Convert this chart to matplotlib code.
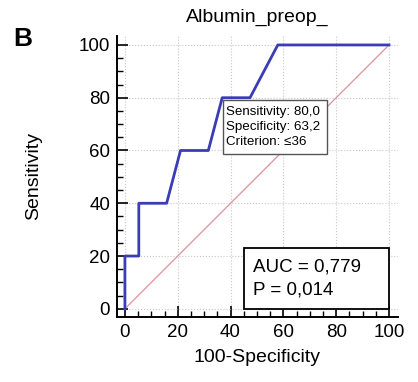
import numpy as np
import matplotlib.pyplot as plt
from matplotlib.patches import Rectangle

plt.rcParams['font.family'] = ['Liberation Sans', 'DejaVu Sans']

# ROC curve points (100-Specificity, Sensitivity)
fpr = [0, 0, 5.26, 5.26, 15.79, 21.05, 31.58, 36.84, 47.37, 57.89, 100]
tpr = [0, 20, 20, 40, 40, 60, 60, 80, 80, 100, 100]
ticks = [0, 20, 40, 60, 80, 100]

title = "Albumin_preop_"
crit_text = "Sensitivity: 80,0\nSpecificity: 63,2\nCriterion: \u226436"
auc_text = "AUC = 0,779\nP = 0,014"

fig = plt.figure(figsize=(4.18, 3.82), dpi=100)
ax = fig.add_axes([0.2799, 0.1702, 0.6722, 0.7356])

ax.set_xlim(-3, 103.4)
ax.set_ylim(-3.1, 103.4)

ax.set_xticks(ticks)
ax.set_yticks(ticks)
ax.set_xticks(np.arange(0, 101, 5), minor=True)
ax.set_yticks(np.arange(0, 101, 5), minor=True)
ax.tick_params(which="major", direction="in", length=8, width=1.2, labelsize=13.5, pad=5)
ax.tick_params(which="minor", direction="in", length=4, width=1)
ax.grid(True, which="major", linestyle=":", color="#c8c8c8", linewidth=0.8)

for s in ["top", "right"]:
    ax.spines[s].set_visible(False)
for s in ["left", "bottom"]:
    ax.spines[s].set_linewidth(1.4)

ax.plot([0, 100], [0, 100], color="#d9939a", linewidth=0.9, zorder=2)
ax.plot(fpr, tpr, color="#3a3db4", linewidth=2, zorder=3)

ax.add_patch(Rectangle((37.0, 58.7), 39.4, 20.4, facecolor="white",
                       edgecolor="#555555", linewidth=1, zorder=4))
ax.text(38.2, 68.9, crit_text, fontsize=9.6, va="center", ha="left",
        linespacing=1.3, zorder=5)

ax.add_patch(Rectangle((45.1, 0), 54.9, 22.9, facecolor="white",
                       edgecolor="black", linewidth=1.3, zorder=4))
ax.text(48.5, 11.5, auc_text, fontsize=13.5, va="center", ha="left",
        linespacing=1.45, zorder=5)

ax.set_title(title, fontsize=14, pad=10)
ax.set_xlabel("100-Specificity", fontsize=14, labelpad=6)
ax.set_ylabel("Sensitivity", fontsize=14, labelpad=26)
fig.text(0.055, 0.898, "B", fontsize=19, fontweight="bold", ha="center", va="center")

fig.savefig("out.png", dpi=100)
